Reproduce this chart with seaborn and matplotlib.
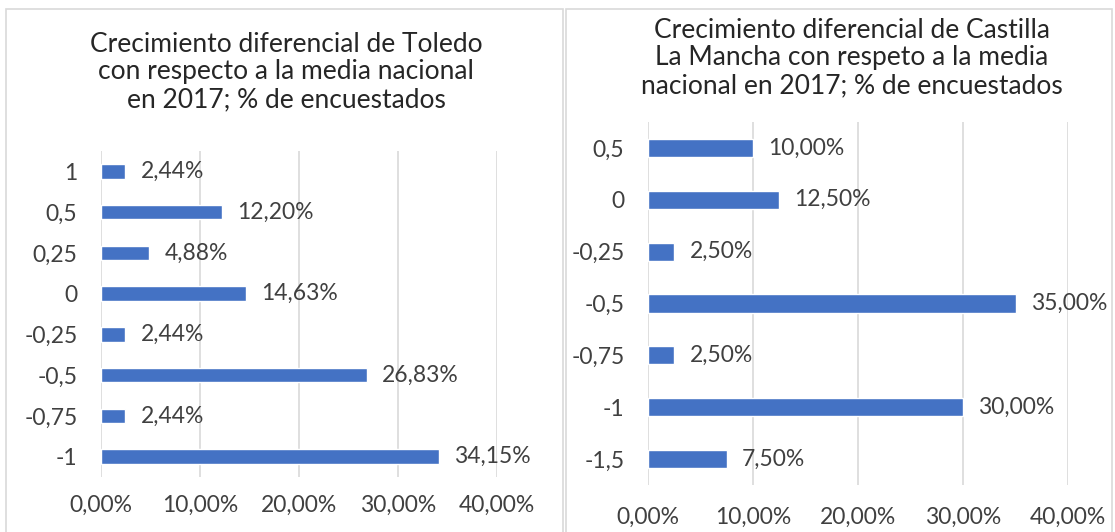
import pandas as pd
import matplotlib.pyplot as plt
import matplotlib.patches as mpatches
import seaborn as sns

# Data
toledo_cats = ['1', '0,5', '0,25', '0', '-0,25', '-0,5', '-0,75', '-1']
toledo_vals = [2.44, 12.20, 4.88, 14.63, 2.44, 26.83, 2.44, 34.15]

clm_cats = ['0,5', '0', '-0,25', '-0,5', '-0,75', '-1', '-1,5']
clm_vals = [10.00, 12.50, 2.50, 35.00, 2.50, 30.00, 7.50]

x_ticks = [0, 10, 20, 30, 40]

title_left = 'Crecimiento diferencial de Toledo\ncon respecto a la media nacional\nen 2017; % de encuestados'
title_right = 'Crecimiento diferencial de Castilla\nLa Mancha con respeto a la media\nnacional en 2017; % de encuestados'

sns.set_theme(style='white')
plt.rcParams['font.family'] = ['Lato', 'DejaVu Sans']

BAR = '#4472C4'
TXT = '#404040'
GRID = '#d9d9d9'
FS = 16.5


def fmt(v):
    return f'{v:.2f}'.replace('.', ',') + '%'


fig = plt.figure(figsize=(11.15, 5.32), dpi=100)

# panel borders (bottom edge runs off the image, as in the reference)
for x0, x1 in [(6, 563), (566, 1112)]:
    fig.patches.append(mpatches.Rectangle((x0 / 1115, -10 / 532), (x1 - x0) / 1115, 1 + 1 / 532,
                                          transform=fig.transFigure, fill=False,
                                          edgecolor=GRID, linewidth=1.2))


def draw(ax, cats, vals, xpad):
    df = pd.DataFrame({'cat': cats, 'pct': vals})
    sns.barplot(data=df, x='pct', y='cat', order=cats, orient='h', color=BAR,
                width=0.35, ax=ax, saturation=1)
    ax.bar_label(ax.containers[0], labels=[fmt(v) for v in vals], padding=11,
                 fontsize=FS, color=TXT)
    ax.set_xlim(0, 40)
    ax.set_xticks(x_ticks)
    ax.set_xticklabels([fmt(t) for t in x_ticks])
    ax.set_xlabel('')
    ax.set_ylabel('')
    ax.grid(axis='x', color=GRID, linewidth=1.2)
    ax.set_axisbelow(True)
    for s in ax.spines.values():
        s.set_visible(False)
    ax.tick_params(axis='y', length=0, pad=17, labelsize=FS, labelcolor=TXT)
    ax.tick_params(axis='x', length=0, pad=xpad, labelsize=FS, labelcolor=TXT)


ax1 = fig.add_axes([101 / 1115, 1 - 477 / 532, (497 - 101) / 1115, (477 - 151) / 532])
ax2 = fig.add_axes([648 / 1115, 1 - 485 / 532, (1068 - 648) / 1115, (485 - 122) / 532])
draw(ax1, toledo_cats, toledo_vals, 13)
draw(ax2, clm_cats, clm_vals, 16)

fig.text(286 / 1115, 1 - 72 / 532, title_left, ha='center', va='center',
         fontsize=19, color='#262626', linespacing=1.14)
fig.text(852 / 1115, 1 - 58 / 532, title_right, ha='center', va='center',
         fontsize=19, color='#262626', linespacing=1.14)

plt.savefig('out.png', dpi=100)
